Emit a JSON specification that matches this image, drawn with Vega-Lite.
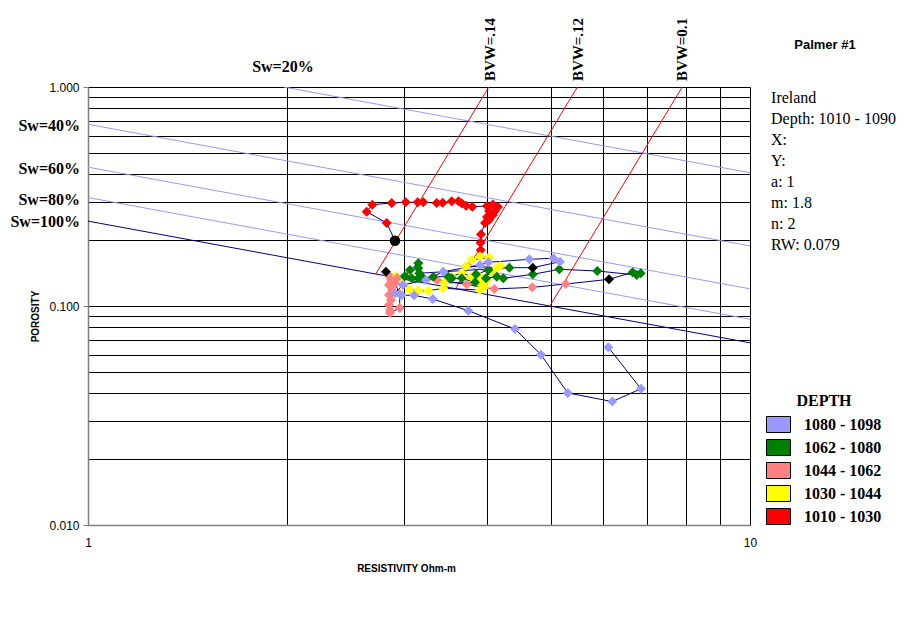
{
  "$schema": "https://vega.github.io/schema/vega-lite/v6.json",
  "width": 662,
  "height": 438,
  "autosize": "none",
  "padding": {"left": 88, "top": 87, "right": 155, "bottom": 108},
  "background": "white",
  "config": {"view": {"stroke": null}, "font": "Liberation Sans"},
  "datasets": {
    "pts": [
      {"i": 0, "g": "marker", "s": "circle", "x": 2.909, "y": 0.1987},
      {"i": 1, "g": "1010 - 1030", "x": 2.826, "y": 0.2393},
      {"i": 2, "g": "1010 - 1030", "x": 2.636, "y": 0.2695},
      {"i": 3, "g": "1010 - 1030", "x": 2.688, "y": 0.2901},
      {"i": 4, "g": "1010 - 1030", "x": 2.876, "y": 0.2953},
      {"i": 5, "g": "1010 - 1030", "x": 3.019, "y": 0.2975},
      {"i": 6, "g": "1010 - 1030", "x": 3.148, "y": 0.2975},
      {"i": 7, "g": "1010 - 1030", "x": 3.210, "y": 0.2975},
      {"i": 8, "g": "1010 - 1030", "x": 3.363, "y": 0.2953},
      {"i": 9, "g": "1010 - 1030", "x": 3.434, "y": 0.2962},
      {"i": 10, "g": "1010 - 1030", "x": 3.544, "y": 0.3006},
      {"i": 11, "g": "1010 - 1030", "x": 3.627, "y": 0.3006},
      {"i": 12, "g": "1010 - 1030", "x": 3.669, "y": 0.2944},
      {"i": 13, "g": "1010 - 1030", "x": 3.724, "y": 0.2871},
      {"i": 14, "g": "1010 - 1030", "x": 3.806, "y": 0.2841},
      {"i": 15, "g": "1010 - 1030", "x": 4.006, "y": 0.2862},
      {"i": 16, "g": "1010 - 1030", "x": 4.090, "y": 0.2907},
      {"i": 17, "g": "1010 - 1030", "x": 4.162, "y": 0.2832},
      {"i": 18, "g": "1010 - 1030", "x": 4.119, "y": 0.2715},
      {"i": 19, "g": "1010 - 1030", "x": 4.034, "y": 0.2715},
      {"i": 20, "g": "1010 - 1030", "x": 4.090, "y": 0.2603},
      {"i": 21, "g": "1010 - 1030", "x": 4.006, "y": 0.2549},
      {"i": 22, "g": "1010 - 1030", "x": 4.034, "y": 0.2470},
      {"i": 23, "g": "1010 - 1030", "x": 3.978, "y": 0.2393},
      {"i": 24, "g": "1010 - 1030", "x": 3.923, "y": 0.2126},
      {"i": 25, "g": "1010 - 1030", "x": 3.917, "y": 0.1945},
      {"i": 26, "g": "1010 - 1030", "x": 3.920, "y": 0.1802},
      {"i": 27, "g": "1030 - 1044", "x": 3.909, "y": 0.1683},
      {"i": 28, "g": "1030 - 1044", "x": 4.034, "y": 0.1669},
      {"i": 29, "g": "1030 - 1044", "x": 3.799, "y": 0.1622},
      {"i": 30, "g": "1030 - 1044", "x": 3.724, "y": 0.1523},
      {"i": 31, "g": "1030 - 1044", "x": 4.144, "y": 0.1496},
      {"i": 32, "g": "1030 - 1044", "x": 4.192, "y": 0.1523},
      {"i": 33, "g": "1030 - 1044", "x": 4.095, "y": 0.1411},
      {"i": 34, "g": "1030 - 1044", "x": 3.909, "y": 0.1361},
      {"i": 35, "g": "1030 - 1044", "x": 4.003, "y": 0.1315},
      {"i": 36, "g": "1030 - 1044", "x": 3.790, "y": 0.1361},
      {"i": 37, "g": "1030 - 1044", "x": 3.669, "y": 0.1419},
      {"i": 38, "g": "1030 - 1044", "x": 3.544, "y": 0.1361},
      {"i": 39, "g": "1030 - 1044", "x": 3.452, "y": 0.1278},
      {"i": 40, "g": "1030 - 1044", "x": 3.909, "y": 0.1274},
      {"i": 41, "g": "1030 - 1044", "x": 3.978, "y": 0.1225},
      {"i": 42, "g": "1030 - 1044", "x": 3.909, "y": 0.1183},
      {"i": 43, "g": "1030 - 1044", "x": 3.440, "y": 0.1204},
      {"i": 44, "g": "1030 - 1044", "x": 3.266, "y": 0.1174},
      {"i": 45, "g": "1030 - 1044", "x": 3.155, "y": 0.1174},
      {"i": 46, "g": "1030 - 1044", "x": 3.058, "y": 0.1196},
      {"i": 47, "g": "1030 - 1044", "x": 2.960, "y": 0.1291},
      {"i": 48, "g": "1030 - 1044", "x": 2.919, "y": 0.1371},
      {"i": 49, "g": "marker", "s": "diamond", "x": 2.819, "y": 0.1434},
      {"i": 50, "g": "1044 - 1062", "x": 2.839, "y": 0.1385},
      {"i": 51, "g": "1044 - 1062", "x": 2.869, "y": 0.1315},
      {"i": 52, "g": "1044 - 1062", "x": 2.849, "y": 0.1247},
      {"i": 53, "g": "1044 - 1062", "x": 2.879, "y": 0.1183},
      {"i": 54, "g": "1044 - 1062", "x": 2.849, "y": 0.1122},
      {"i": 55, "g": "1044 - 1062", "x": 2.869, "y": 0.1065},
      {"i": 56, "g": "1044 - 1062", "x": 2.849, "y": 0.1011},
      {"i": 57, "g": "1044 - 1062", "x": 2.859, "y": 0.0959},
      {"i": 58, "g": "1044 - 1062", "x": 2.859, "y": 0.0929},
      {"i": 59, "g": "1044 - 1062", "x": 2.957, "y": 0.0979},
      {"i": 60, "g": "1044 - 1062", "x": 2.957, "y": 0.1134},
      {"i": 61, "g": "1044 - 1062", "x": 2.909, "y": 0.1274},
      {"i": 62, "g": "1044 - 1062", "x": 2.930, "y": 0.1342},
      {"i": 63, "g": "1044 - 1062", "x": 3.367, "y": 0.1315},
      {"i": 64, "g": "1044 - 1062", "x": 3.733, "y": 0.1256},
      {"i": 65, "g": "1044 - 1062", "x": 4.109, "y": 0.1196},
      {"i": 66, "g": "1044 - 1062", "x": 4.690, "y": 0.1217},
      {"i": 67, "g": "1044 - 1062", "x": 5.268, "y": 0.1260},
      {"i": 68, "g": "marker", "s": "diamond", "x": 6.124, "y": 0.1324},
      {"i": 69, "g": "1062 - 1080", "x": 6.649, "y": 0.1425},
      {"i": 70, "g": "1062 - 1080", "x": 6.837, "y": 0.1411},
      {"i": 71, "g": "1062 - 1080", "x": 6.744, "y": 0.1385},
      {"i": 72, "g": "1062 - 1080", "x": 5.880, "y": 0.1445},
      {"i": 73, "g": "1062 - 1080", "x": 5.152, "y": 0.1471},
      {"i": 74, "g": "1062 - 1080", "x": 4.697, "y": 0.1395},
      {"i": 75, "g": "1062 - 1080", "x": 4.240, "y": 0.1338},
      {"i": 76, "g": "1062 - 1080", "x": 4.144, "y": 0.1361},
      {"i": 77, "g": "1062 - 1080", "x": 3.992, "y": 0.1338},
      {"i": 78, "g": "1062 - 1080", "x": 4.024, "y": 0.1460},
      {"i": 79, "g": "1062 - 1080", "x": 3.856, "y": 0.1395},
      {"i": 80, "g": "1062 - 1080", "x": 3.843, "y": 0.1283},
      {"i": 81, "g": "1062 - 1080", "x": 3.669, "y": 0.1338},
      {"i": 82, "g": "1062 - 1080", "x": 3.544, "y": 0.1338},
      {"i": 83, "g": "1062 - 1080", "x": 3.501, "y": 0.1361},
      {"i": 84, "g": "1062 - 1080", "x": 3.324, "y": 0.1361},
      {"i": 85, "g": "1062 - 1080", "x": 3.210, "y": 0.1338},
      {"i": 86, "g": "1062 - 1080", "x": 3.155, "y": 0.1338},
      {"i": 87, "g": "1062 - 1080", "x": 3.083, "y": 0.1338},
      {"i": 88, "g": "1062 - 1080", "x": 3.011, "y": 0.1371},
      {"i": 89, "g": "1062 - 1080", "x": 3.064, "y": 0.1460},
      {"i": 90, "g": "1062 - 1080", "x": 3.155, "y": 0.1567},
      {"i": 91, "g": "1062 - 1080", "x": 3.155, "y": 0.1486},
      {"i": 92, "g": "1062 - 1080", "x": 3.166, "y": 0.1411},
      {"i": 93, "g": "1062 - 1080", "x": 4.329, "y": 0.1496},
      {"i": 94, "g": "marker", "s": "diamond", "x": 4.697, "y": 0.1496},
      {"i": 95, "g": "1080 - 1098", "x": 5.164, "y": 0.1593},
      {"i": 96, "g": "1080 - 1098", "x": 5.045, "y": 0.1652},
      {"i": 97, "g": "1080 - 1098", "x": 4.641, "y": 0.1634},
      {"i": 98, "g": "1080 - 1098", "x": 4.024, "y": 0.1583},
      {"i": 99, "g": "1080 - 1098", "x": 3.909, "y": 0.1539},
      {"i": 100, "g": "1080 - 1098", "x": 3.440, "y": 0.1434},
      {"i": 101, "g": "1080 - 1098", "x": 3.240, "y": 0.1315},
      {"i": 102, "g": "1080 - 1098", "x": 2.988, "y": 0.1247},
      {"i": 103, "g": "1080 - 1098", "x": 2.909, "y": 0.1143},
      {"i": 104, "g": "1080 - 1098", "x": 2.977, "y": 0.1119},
      {"i": 105, "g": "1080 - 1098", "x": 3.109, "y": 0.1119},
      {"i": 106, "g": "1080 - 1098", "x": 3.317, "y": 0.1076},
      {"i": 107, "g": "1080 - 1098", "x": 3.754, "y": 0.0952},
      {"i": 108, "g": "1080 - 1098", "x": 4.416, "y": 0.0785},
      {"i": 109, "g": "1080 - 1098", "x": 4.834, "y": 0.0599},
      {"i": 110, "g": "1080 - 1098", "x": 5.305, "y": 0.0401},
      {"i": 111, "g": "1080 - 1098", "x": 6.194, "y": 0.0366},
      {"i": 112, "g": "1080 - 1098", "x": 6.843, "y": 0.0419},
      {"i": 113, "g": "1080 - 1098", "x": 6.109, "y": 0.0648}
    ],
    "sw": [
      {"c": "Sw=20%", "x": 1.975, "y": 1.0},
      {"c": "Sw=20%", "x": 10, "y": 0.4061},
      {"c": "Sw=40%", "x": 1, "y": 0.6757},
      {"c": "Sw=40%", "x": 10, "y": 0.1880},
      {"c": "Sw=60%", "x": 1, "y": 0.4306},
      {"c": "Sw=60%", "x": 10, "y": 0.1198},
      {"c": "Sw=80%", "x": 1, "y": 0.3128},
      {"c": "Sw=80%", "x": 10, "y": 0.0870},
      {"c": "Sw=100%", "x": 1, "y": 0.2441},
      {"c": "Sw=100%", "x": 10, "y": 0.0679}
    ],
    "bvw": [
      {"c": "0.14", "x": 2.720, "y": 0.14},
      {"c": "0.14", "x": 4.031, "y": 1.0},
      {"c": "0.12", "x": 3.591, "y": 0.12},
      {"c": "0.12", "x": 5.486, "y": 1.0},
      {"c": "0.1", "x": 4.985, "y": 0.1},
      {"c": "0.1", "x": 7.9, "y": 1.0}
    ],
    "swlab": [
      {"t": "Sw=40%", "x": 0.9726, "y": 0.6637},
      {"t": "Sw=60%", "x": 0.9726, "y": 0.4222},
      {"t": "Sw=80%", "x": 0.9726, "y": 0.3048},
      {"t": "Sw=100%", "x": 0.9726, "y": 0.2418}
    ],
    "toplab": [
      {"t": "Sw=20%", "x": 1.97, "y": 1.234}
    ],
    "bvwlab": [
      {"t": "BVW=.14", "x": 4.048, "y": 1.065},
      {"t": "BVW=.12", "x": 5.498, "y": 1.065},
      {"t": "BVW=0.1", "x": 7.893, "y": 1.065}
    ],
    "head": [
      {"t": "Palmer #1", "x": 12.98, "y": 1.555}
    ],
    "info": [
      {"t": "Ireland", "x": 10.76, "y": 0.8908},
      {"t": "Depth: 1010 - 1090", "x": 10.76, "y": 0.7143},
      {"t": "X:", "x": 10.76, "y": 0.5728},
      {"t": "Y:", "x": 10.76, "y": 0.4594},
      {"t": "a: 1", "x": 10.76, "y": 0.3684},
      {"t": "m: 1.8", "x": 10.76, "y": 0.2953},
      {"t": "n: 2", "x": 10.76, "y": 0.2368},
      {"t": "RW: 0.079", "x": 10.76, "y": 0.1899}
    ]
  },
  "encoding": {
    "x": {
      "field": "x", "type": "quantitative",
      "scale": {"type": "log", "domain": [1, 10], "nice": false},
      "axis": {
        "values": [1, 2, 3, 4, 5, 6, 7, 8, 9, 10],
        "labelExpr": "datum.value == 1 || datum.value == 10 ? datum.value + '' : ''",
        "labelFlush": false, "labelOverlap": false,
        "grid": true, "gridColor": "#000000", "gridWidth": 1,
        "domainColor": "#808080", "domainWidth": 1.5,
        "ticks": false,
        "labelFont": "Liberation Sans", "labelFontSize": 12, "labelColor": "black", "labelPadding": 12,
        "title": "RESISTIVITY Ohm-m",
        "titleFont": "Liberation Sans", "titleFontSize": 10, "titleFontWeight": "bold", "titleColor": "black",
        "titleX": 318, "titleY": 43, "titleBaseline": "middle", "titleAlign": "center"
      }
    },
    "y": {
      "field": "y", "type": "quantitative",
      "scale": {"type": "log", "domain": [0.01, 1], "nice": false},
      "axis": {
        "values": [0.01, 0.02, 0.03, 0.04, 0.05, 0.06, 0.07, 0.08, 0.09, 0.1, 0.2, 0.3, 0.4, 0.5, 0.6, 0.7, 0.8, 0.9, 1],
        "labelExpr": "datum.value == 1 || datum.value == 0.1 || datum.value == 0.01 ? format(datum.value, '.3f') : ''",
        "labelFlush": false, "labelOverlap": false,
        "grid": true, "gridColor": "#000000", "gridWidth": 1,
        "domainColor": "#808080", "domainWidth": 1.5,
        "tickColor": "#808080", "tickSize": 5,
        "tickOpacity": {"condition": {"test": "datum.value == 1 || datum.value == 0.1 || datum.value == 0.01", "value": 1}, "value": 0},
        "labelFont": "Liberation Sans", "labelFontSize": 12, "labelColor": "black", "labelPadding": 4,
        "title": "POROSITY",
        "titleFont": "Liberation Sans", "titleFontSize": 10, "titleFontWeight": "bold", "titleColor": "black",
        "titleX": -53, "titleY": 229, "titleBaseline": "middle", "titleAlign": "center", "titleAngle": 270
      }
    }
  },
  "layer": [
    {
      "data": {"name": "sw"},
      "transform": [{"filter": "datum.c != 'Sw=100%'"}],
      "mark": {"type": "line", "color": "#9999FF", "strokeWidth": 1},
      "encoding": {"detail": {"field": "c"}}
    },
    {
      "data": {"name": "sw"},
      "transform": [{"filter": "datum.c == 'Sw=100%'"}],
      "mark": {"type": "line", "color": "#000080", "strokeWidth": 1},
      "encoding": {"detail": {"field": "c"}}
    },
    {
      "data": {"name": "bvw"},
      "mark": {"type": "line", "color": "#FF0000", "strokeWidth": 1},
      "encoding": {"detail": {"field": "c"}}
    },
    {
      "data": {"name": "pts"},
      "mark": {"type": "line", "color": "#000080", "strokeWidth": 1},
      "encoding": {"order": {"field": "i", "type": "quantitative"}}
    },
    {
      "data": {"name": "pts"},
      "transform": [{"filter": "datum.g != 'marker'"}],
      "mark": {"type": "point", "shape": "diamond", "filled": true, "size": 100, "opacity": 1, "strokeWidth": 0},
      "encoding": {
        "color": {
          "field": "g", "type": "nominal",
          "scale": {
            "domain": ["1080 - 1098", "1062 - 1080", "1044 - 1062", "1030 - 1044", "1010 - 1030"],
            "range": ["#9999FF", "#008000", "#FF8080", "#FFFF00", "#FF0000"]
          },
          "legend": {
            "title": "DEPTH",
            "orient": "none", "legendX": 678, "legendY": 306,
            "padding": 0,
            "titleFont": "Liberation Serif", "titleFontSize": 16, "titleFontWeight": "bold", "titleColor": "black",
            "titleAnchor": "middle", "titlePadding": 3,
            "labelFont": "Liberation Serif", "labelFontSize": 16, "labelFontWeight": "bold", "labelColor": "black",
            "labelOffset": 13,
            "symbolType": "M-1,-0.667L1,-0.667L1,0.667L-1,0.667Z",
            "symbolSize": 576, "symbolStrokeColor": "black", "symbolStrokeWidth": 1, "symbolOpacity": 1,
            "rowPadding": 0,
            "encode": {"symbols": {"update": {"stroke": {"value": "black"}, "strokeWidth": {"value": 1}}}}
          }
        }
      }
    },
    {
      "data": {"name": "pts"},
      "transform": [{"filter": "datum.s == 'diamond'"}],
      "mark": {"type": "point", "shape": "diamond", "filled": true, "size": 100, "opacity": 1, "color": "black", "strokeWidth": 0}
    },
    {
      "data": {"name": "pts"},
      "transform": [{"filter": "datum.s == 'circle'"}],
      "mark": {"type": "point", "shape": "circle", "filled": true, "size": 110, "opacity": 1, "color": "black", "strokeWidth": 0}
    },
    {
      "data": {"name": "swlab"},
      "mark": {"type": "text", "align": "right", "baseline": "middle", "font": "Liberation Serif", "fontSize": 16, "fontWeight": "bold", "color": "black"},
      "encoding": {"text": {"field": "t"}}
    },
    {
      "data": {"name": "toplab"},
      "mark": {"type": "text", "align": "center", "baseline": "middle", "font": "Liberation Serif", "fontSize": 16, "fontWeight": "bold", "color": "black"},
      "encoding": {"text": {"field": "t"}}
    },
    {
      "data": {"name": "bvwlab"},
      "mark": {"type": "text", "align": "left", "baseline": "middle", "angle": 270, "font": "Liberation Serif", "fontSize": 15, "fontWeight": "bold", "color": "black"},
      "encoding": {"text": {"field": "t"}}
    },
    {
      "data": {"name": "head"},
      "mark": {"type": "text", "align": "center", "baseline": "middle", "font": "Liberation Sans", "fontSize": 13, "fontWeight": "bold", "color": "black"},
      "encoding": {"text": {"field": "t"}}
    },
    {
      "data": {"name": "info"},
      "mark": {"type": "text", "align": "left", "baseline": "middle", "font": "Liberation Serif", "fontSize": 16, "color": "black"},
      "encoding": {"text": {"field": "t"}}
    }
  ]
}
